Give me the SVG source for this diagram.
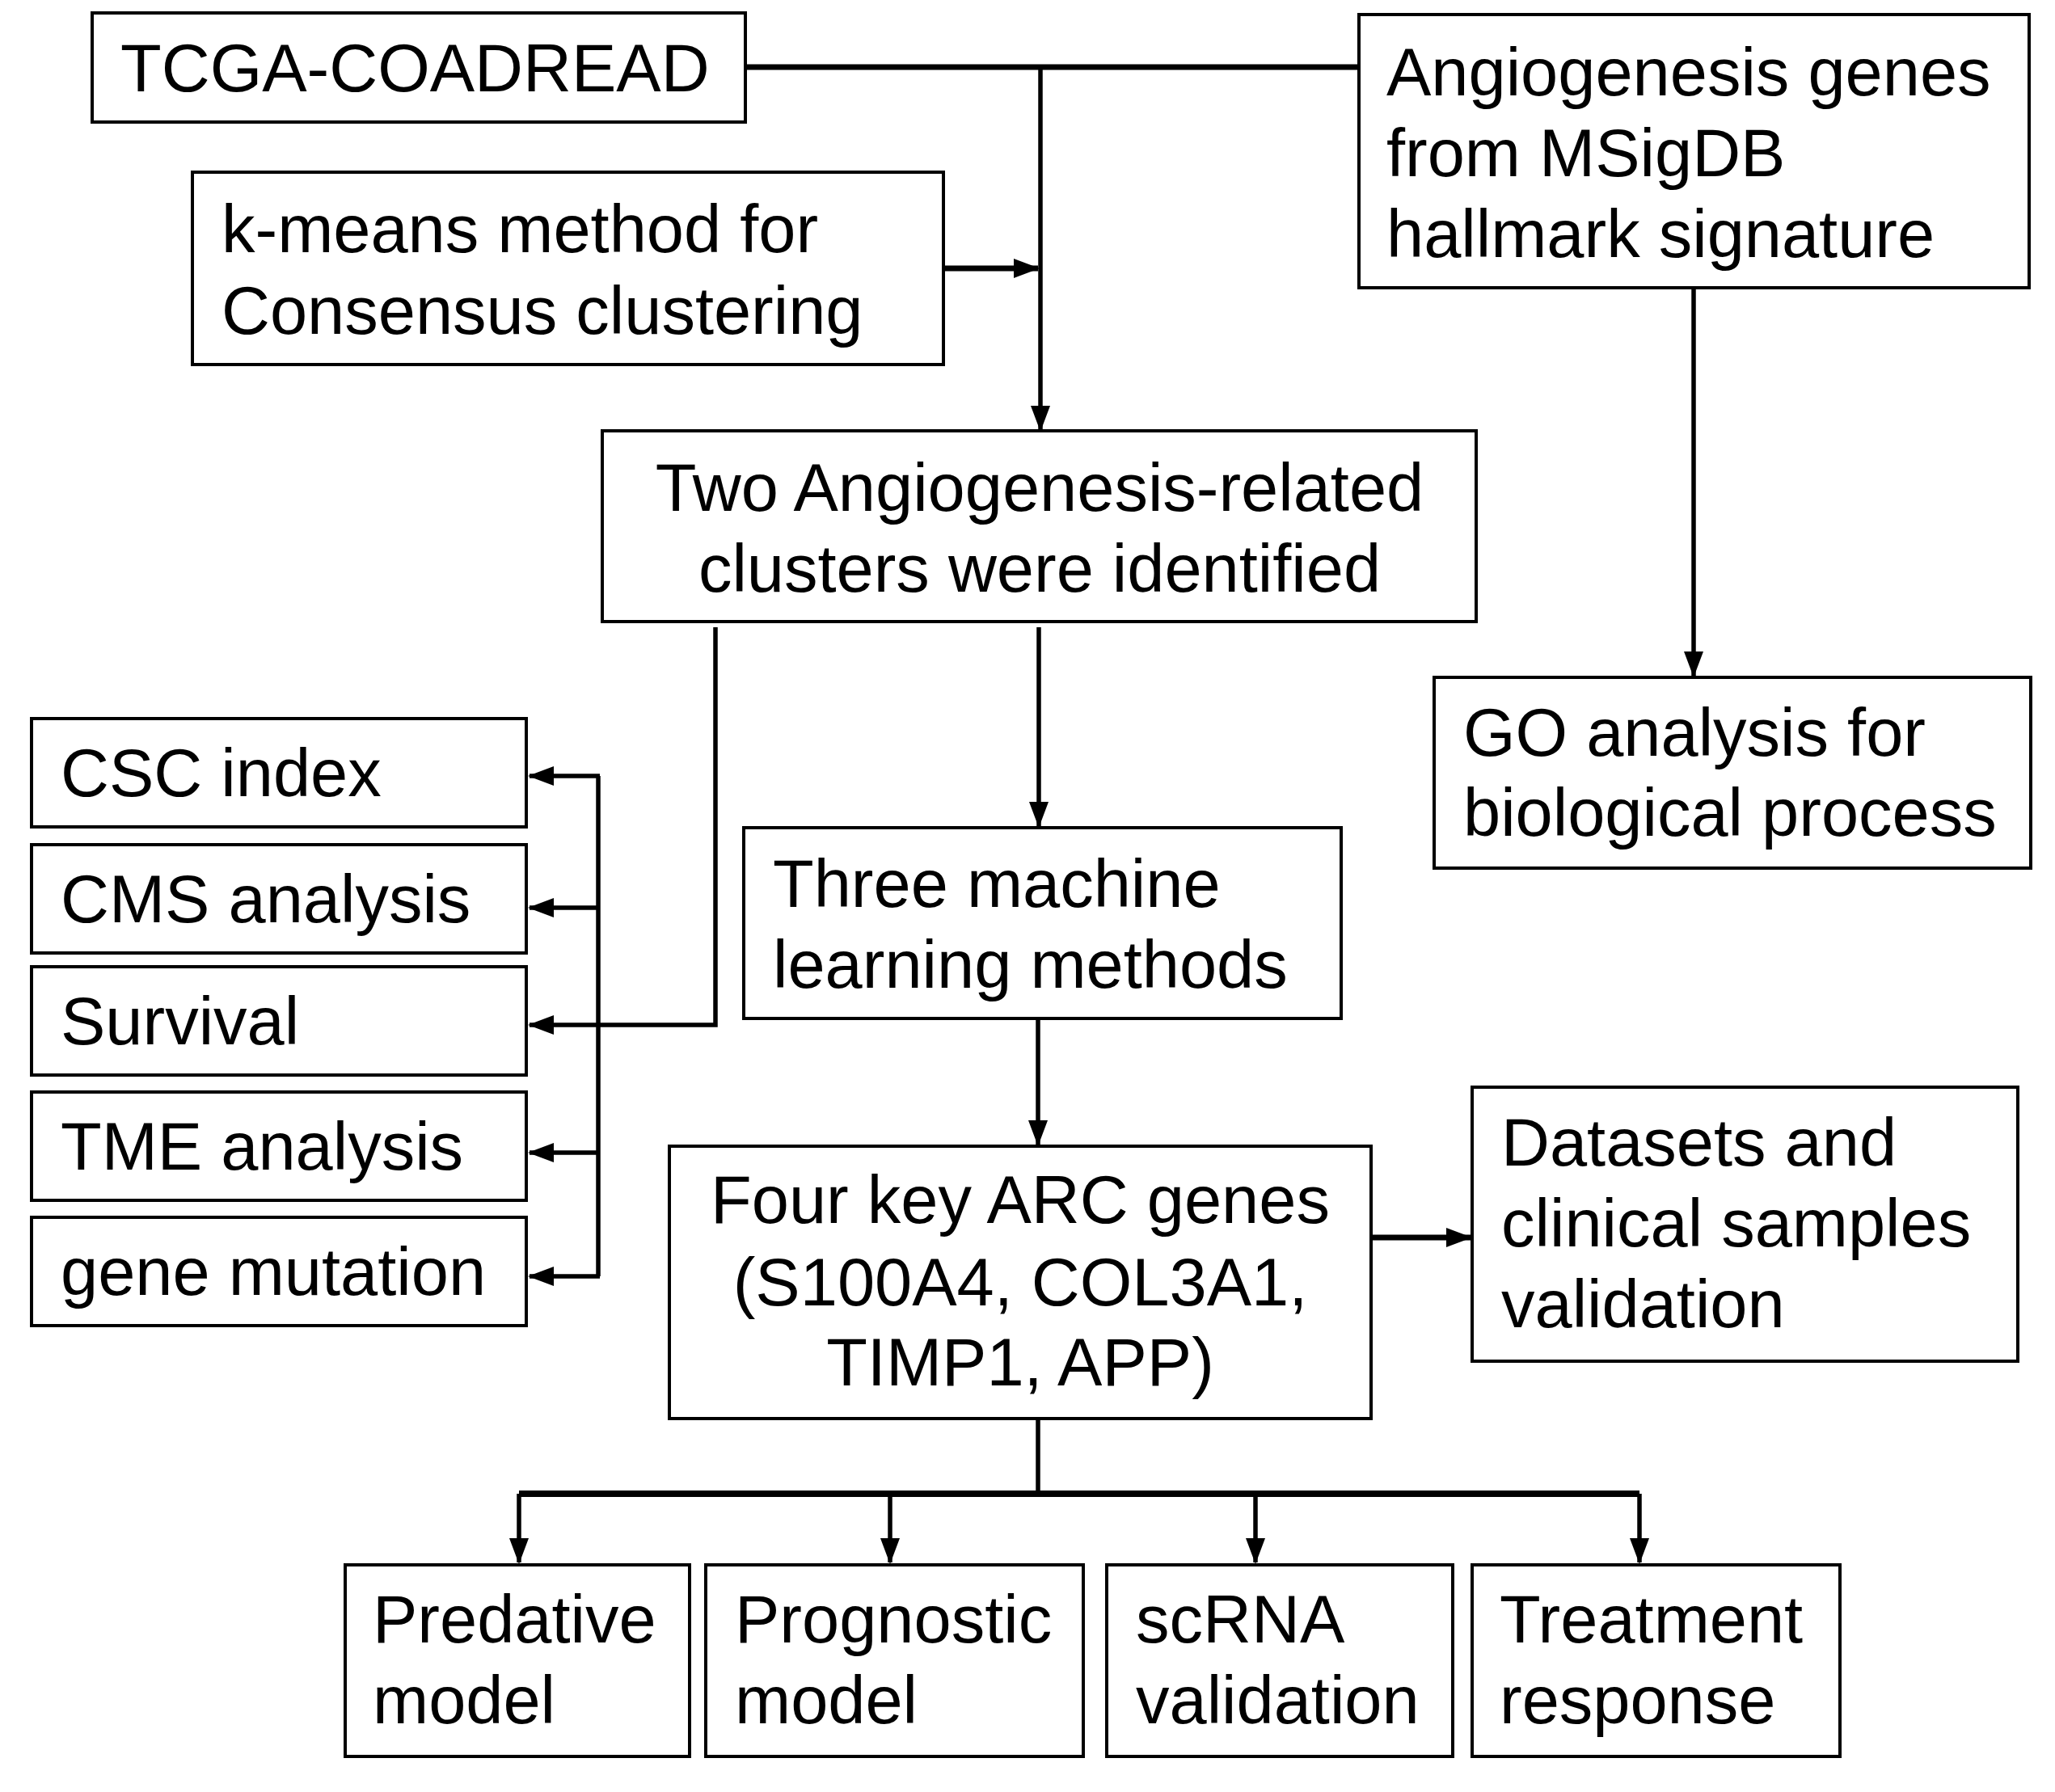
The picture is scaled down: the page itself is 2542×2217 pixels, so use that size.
<svg xmlns="http://www.w3.org/2000/svg" width="2542" height="2217" viewBox="0 0 2542 2217">
<style>
.box{fill:#fff;stroke:#000;stroke-width:4}
.t{font-family:"Liberation Sans",Arial,sans-serif;font-size:83px;fill:#000}
.c{text-anchor:middle}
.ln{fill:none;stroke:#000;stroke-width:5.5}
</style>
<defs>
<marker id="ah" markerUnits="userSpaceOnUse" markerWidth="32" markerHeight="26" refX="30" refY="13" orient="auto">
<path d="M0,1 L32,13 L0,25 Z" fill="#000"/>
</marker>
</defs>
<rect width="2542" height="2217" fill="#fff"/>
<g id="connectors">
<path class="ln" d="M922,83 H1681" style="stroke-width:7"/>
<path class="ln" d="M1287,83 V532" marker-end="url(#ah)"/>
<path class="ln" d="M1167,332 H1284" marker-end="url(#ah)" style="stroke-width:7"/>
<path class="ln" d="M2095,356 V836" marker-end="url(#ah)"/>
<path class="ln" d="M1285,776 V1022" marker-end="url(#ah)"/>
<path class="ln" d="M885,776 V1268 H655" marker-end="url(#ah)"/>
<path class="ln" d="M740,960 V1579"/>
<path class="ln" d="M742,960 H655" marker-end="url(#ah)"/>
<path class="ln" d="M740,1123 H655" marker-end="url(#ah)"/>
<path class="ln" d="M740,1426 H655" marker-end="url(#ah)"/>
<path class="ln" d="M742,1579 H655" marker-end="url(#ah)"/>
<path class="ln" d="M1284,1262 V1416" marker-end="url(#ah)"/>
<path class="ln" d="M1697,1531 H1819" marker-end="url(#ah)" style="stroke-width:7"/>
<path class="ln" d="M1284,1756 V1848"/>
<path class="ln" d="M642,1848 H2028" style="stroke-width:8"/>
<path class="ln" d="M642,1848 V1933" marker-end="url(#ah)"/>
<path class="ln" d="M1101,1848 V1933" marker-end="url(#ah)"/>
<path class="ln" d="M1553,1848 V1933" marker-end="url(#ah)"/>
<path class="ln" d="M2028,1848 V1933" marker-end="url(#ah)"/>
</g>
<g id="tcga"><rect class="box" x="114" y="16" width="808" height="135"/><text class="t" x="149" y="113">TCGA-COADREAD</text></g>
<g id="angio-genes"><rect class="box" x="1681" y="18" width="829" height="338"/><text class="t" x="1715" y="118">Angiogenesis genes</text><text class="t" x="1715" y="218">from MSigDB</text><text class="t" x="1715" y="318">hallmark signature</text></g>
<g id="kmeans"><rect class="box" x="238" y="213" width="929" height="238"/><text class="t" x="274" y="312">k-means method for</text><text class="t" x="274" y="413">Consensus clustering</text></g>
<g id="two-clusters"><rect class="box" x="745" y="533" width="1081" height="236"/><text class="t c" x="1286" y="632">Two Angiogenesis-related</text><text class="t c" x="1286" y="732">clusters were identified</text></g>
<g id="go"><rect class="box" x="1774" y="838" width="738" height="236"/><text class="t" x="1810" y="935">GO analysis for</text><text class="t" x="1810" y="1034">biological process</text></g>
<g id="csc"><rect class="box" x="39" y="889" width="612" height="134"/><text class="t" x="75" y="985">CSC index</text></g>
<g id="cms"><rect class="box" x="39" y="1045" width="612" height="134"/><text class="t" x="75" y="1141">CMS analysis</text></g>
<g id="survival"><rect class="box" x="39" y="1196" width="612" height="134"/><text class="t" x="75" y="1292">Survival</text></g>
<g id="tme"><rect class="box" x="39" y="1351" width="612" height="134"/><text class="t" x="75" y="1447">TME analysis</text></g>
<g id="mutation"><rect class="box" x="39" y="1506" width="612" height="134"/><text class="t" x="75" y="1602">gene mutation</text></g>
<g id="three-ml"><rect class="box" x="920" y="1024" width="739" height="236"/><text class="t" x="956" y="1122">Three machine</text><text class="t" x="956" y="1222">learning methods</text></g>
<g id="four-genes"><rect class="box" x="828" y="1418" width="868" height="337"/><text class="t c" x="1262" y="1513">Four key ARC genes</text><text class="t c" x="1262" y="1615">(S100A4, COL3A1,</text><text class="t c" x="1262" y="1714">TIMP1, APP)</text></g>
<g id="datasets"><rect class="box" x="1821" y="1345" width="675" height="339"/><text class="t" x="1857" y="1442">Datasets and</text><text class="t" x="1857" y="1542">clinical samples</text><text class="t" x="1857" y="1642">validation</text></g>
<g id="predative"><rect class="box" x="427" y="1936" width="426" height="237"/><text class="t" x="461" y="2032">Predative</text><text class="t" x="461" y="2132">model</text></g>
<g id="prognostic"><rect class="box" x="873" y="1936" width="467" height="237"/><text class="t" x="909" y="2032">Prognostic</text><text class="t" x="909" y="2132">model</text></g>
<g id="scrna"><rect class="box" x="1369" y="1936" width="428" height="237"/><text class="t" x="1405" y="2032">scRNA</text><text class="t" x="1405" y="2132">validation</text></g>
<g id="treatment"><rect class="box" x="1821" y="1936" width="455" height="237"/><text class="t" x="1855" y="2032">Treatment</text><text class="t" x="1855" y="2132">response</text></g>
</svg>
